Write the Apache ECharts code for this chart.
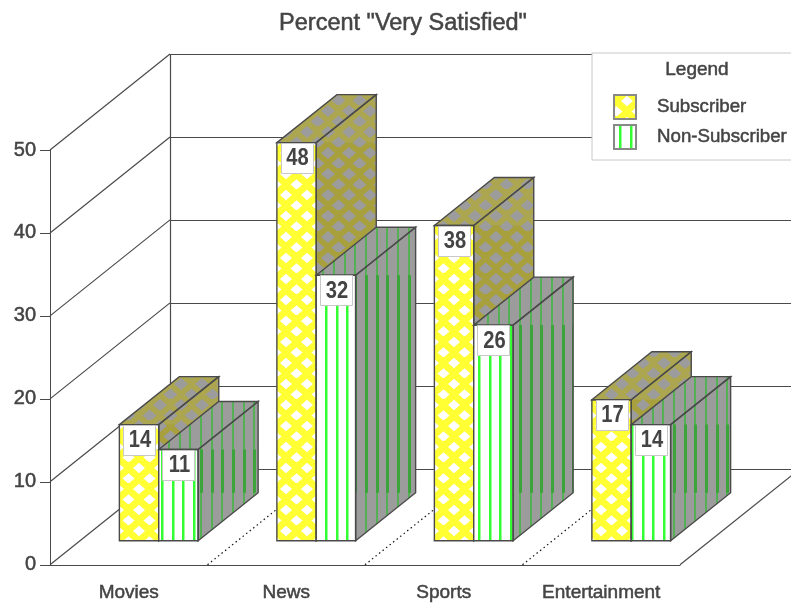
<!DOCTYPE html>
<html>
<head>
<meta charset="utf-8">
<title>Percent "Very Satisfied"</title>
<style>
  html, body { margin: 0; padding: 0; background: #fff; }
  #chart { width: 791px; height: 603px; }
</style>
<script src="https://cdn.jsdelivr.net/npm/echarts@6/dist/echarts.min.js"></script>
</head>
<body>
<div id="chart"></div>
<script>
// Survey results
const categories = ['Movies', 'News', 'Sports', 'Entertainment'];
const subscriberValues = [14, 48, 38, 17];
const nonSubscriberValues = [11, 32, 26, 14];
const valueTicks = [0, 10, 20, 30, 40, 50];

// Oblique projection: how far the full floor depth shifts a point on screen
const DEPTH_X = 120;
const DEPTH_Y = 96;
const BAR_NEAR = 0.25;
const BAR_FAR = 0.75;

const INK = '#444';
const EDGE = '#4a4a4a';
const GRAY = '#9c9c9c';

// Where the stripe tiles start on each striped bar
const frontStripeStart = [161, 325, 478, 631];
const sideStripeStart = [200, 365, 519, 673];

function tile(w, h, paint) {
  const c = document.createElement('canvas');
  c.width = w;
  c.height = h;
  paint(c.getContext('2d'));
  return { image: c, repeat: 'repeat' };
}

// Lattice of diamonds on a 21px staggered grid
function latticeFill(band, hole, rx, ry) {
  return tile(21, 21, ctx => {
    ctx.fillStyle = band;
    ctx.fillRect(0, 0, 21, 21);
    ctx.fillStyle = hole;
    [[13, 6], [2.5, 16.5], [23.5, 16.5], [13, 27], [13, -15]].forEach(([x, y]) => {
      ctx.beginPath();
      ctx.moveTo(x - rx, y);
      ctx.lineTo(x, y - ry);
      ctx.lineTo(x + rx, y);
      ctx.lineTo(x, y + ry);
      ctx.closePath();
      ctx.fill();
    });
  });
}

// Vertical stripes, three to a 32px tile
function stripeFill(stripe, ground, width) {
  return tile(32, 32, ctx => {
    ctx.fillStyle = ground;
    ctx.fillRect(0, 0, 32, 32);
    ctx.fillStyle = stripe;
    [0, 11, 21].forEach(x => ctx.fillRect(x, 0, width, 32));
  });
}

const latticeFront = latticeFill('#ffff33', '#ffffff', 6, 5.2);
const latticeSide = latticeFill('#a8a03c', GRAY, 7, 6);
const latticeTop = latticeFill('#aca650', GRAY, 7, 6);
const stripeFront = stripeFill('#33ff33', '#ffffff', 2.5);
const stripeSide = stripeFill('#3ba53b', GRAY, 3);
const stripeTop = stripeFill('#55b055', GRAY, 2);

const project = (pt, depth) => [pt[0] + DEPTH_X * depth, pt[1] - DEPTH_Y * depth];
const crisp = v => Math.round(v) + 0.5;

function polyline(points, extra) {
  return {
    type: 'polyline',
    shape: { points },
    style: Object.assign({ stroke: EDGE, lineWidth: 1.2, fill: null }, extra),
    silent: true
  };
}

// Side walls and back wall: one ring per value tick
function renderWall(params, api) {
  const band = api.size([1, 0])[0];
  const v = api.value(1);
  const p = api.coord([0, v]);
  const left = [p[0] - band / 2, p[1]];
  const back = project(left, 1);
  const children = [
    polyline([left, back]),
    polyline([[back[0], crisp(back[1])], [back[0] + 680, crisp(back[1])]])
  ];
  if (v === 0) {
    const top = project(api.coord([0, 50]), 1);
    children.push(polyline([[crisp(back[0]), back[1]], [crisp(back[0]), top[1]]]));
  }
  return { type: 'group', children };
}

// Floor markings between the categories and along the right edge
function renderFloor(params, api) {
  const band = api.size([1, 0])[0];
  const i = api.value(0);
  const p = api.coord([i, 0]);
  const near = [p[0] + band / 2, p[1]];
  const far = project(near, 1);
  const isLast = i === categories.length - 1;
  return polyline([near, far], isLast ? {} : { stroke: '#111', lineDash: [1.5, 3] });
}

function makeBarRenderer(slot, fillsFor) {
  return function (params, api) {
    const band = api.size([1, 0])[0];
    const w = band / 4;
    const index = api.value(0);
    const value = api.value(1);
    const fills = fillsFor(index);
    const c = api.coord([index, value]);
    const b = api.coord([index, 0]);
    const x0 = c[0] + (slot - 1) * w;
    const x1 = x0 + w;

    const ftl = project([x0, c[1]], BAR_NEAR);
    const ftr = project([x1, c[1]], BAR_NEAR);
    const fbl = project([x0, b[1]], BAR_NEAR);
    const fbr = project([x1, b[1]], BAR_NEAR);
    const btl = project([x0, c[1]], BAR_FAR);
    const btr = project([x1, c[1]], BAR_FAR);
    const bbr = project([x1, b[1]], BAR_FAR);

    const poly = (pts, fill, stroke) => ({
      type: 'polygon',
      shape: { points: pts },
      style: { fill, stroke: stroke || null, lineWidth: 1.4 },
      silent: true
    });

    const cx = (ftl[0] + ftr[0]) / 2;
    return {
      type: 'group',
      children: [
        poly([fbl, fbr, ftr, ftl], fills.front),
        poly([ftl, ftr, btr, btl], fills.top),
        poly([fbr, bbr, btr, ftr], fills.top),
        // The hatch runs at full strength where the side's height is unbroken
        poly([[fbr[0], ftr[1]], [bbr[0], ftr[1]], [bbr[0], bbr[1]], [fbr[0], bbr[1]]], fills.side),
        poly([fbl, fbr, ftr, ftl], null, EDGE),
        poly([ftl, ftr, btr, btl], null, EDGE),
        poly([fbr, bbr, btr, ftr], null, EDGE),
        {
          type: 'rect',
          shape: { x: Math.round(cx - 16) + 0.5, y: Math.round(ftl[1]) + 0.5, width: 32, height: 30 },
          style: { fill: '#fff', stroke: '#c8c8c8', lineWidth: 1 },
          silent: true
        },
        {
          type: 'text',
          x: cx + 1,
          y: ftl[1] + 16,
          scaleX: 0.84,
          style: {
            text: String(value),
            fill: INK,
            font: 'bold 24px "Liberation Sans"',
            align: 'center',
            verticalAlign: 'middle'
          },
          silent: true
        }
      ]
    };
  };
}

const heavy = { textBorderColor: INK, textBorderWidth: 0.5 };

const chart = echarts.init(document.getElementById('chart'), null, { renderer: 'canvas' });
chart.setOption({
  animation: false,
  backgroundColor: '#fff',
  textStyle: { fontFamily: '"Liberation Sans"' },
  title: {
    text: 'Percent "Very Satisfied"',
    left: 398,
    top: 7,
    textAlign: 'center',
    textStyle: Object.assign({ color: INK, fontSize: 23.5, fontWeight: 'normal', fontFamily: '"Liberation Sans"' }, heavy)
  },
  grid: { left: 50, top: 150, width: 630, height: 415, containLabel: false },
  xAxis: {
    type: 'category',
    data: categories,
    axisLine: { lineStyle: { color: EDGE, width: 1 } },
    axisTick: { alignWithLabel: true, length: 12, lineStyle: { color: EDGE } },
    axisLabel: Object.assign({ color: INK, fontSize: 19, margin: 19, interval: 0 }, heavy),
    splitLine: { show: false }
  },
  yAxis: {
    type: 'value',
    min: 0,
    max: 50,
    interval: 10,
    axisLine: { show: true, lineStyle: { color: EDGE, width: 1 } },
    axisTick: { show: true, length: 10, lineStyle: { color: EDGE } },
    axisLabel: Object.assign({ color: INK, fontSize: 20, margin: 14, verticalAlign: 'bottom', lineHeight: 20, padding: [0, 0, -10, 0] }, heavy),
    splitLine: { show: false }
  },
  legend: {
    orient: 'vertical',
    left: 592,
    top: 53,
    padding: [41, 16, 10, 21],
    itemWidth: 22,
    itemHeight: 24,
    itemGap: 4,
    icon: 'rect',
    backgroundColor: '#fff',
    borderColor: '#c8c8c8',
    borderWidth: 1,
    textStyle: Object.assign({ color: INK, fontSize: 18.7, padding: [0, 0, 0, 16] }, heavy),
    data: ['Subscriber', 'Non-Subscriber'],
    selectedMode: false
  },
  graphic: [{
    type: 'text',
    left: 665,
    top: 60,
    z: 10,
    style: { text: 'Legend', fill: INK, font: '19px "Liberation Sans"', stroke: INK, lineWidth: 0.5 }
  }],
  series: [
    {
      type: 'custom',
      name: 'walls',
      renderItem: renderWall,
      coordinateSystem: 'cartesian2d',
      data: valueTicks.map(v => [0, v]),
      encode: { x: 0, y: 1 },
      silent: true,
      z: 1
    },
    {
      type: 'custom',
      name: 'floor',
      renderItem: renderFloor,
      coordinateSystem: 'cartesian2d',
      data: categories.map((c, i) => [i, 0]),
      encode: { x: 0, y: 1 },
      silent: true,
      z: 1
    },
    {
      type: 'custom',
      name: 'Subscriber',
      renderItem: makeBarRenderer(0, () => ({ front: latticeFront, side: latticeSide, top: latticeTop })),
      coordinateSystem: 'cartesian2d',
      itemStyle: { color: latticeFront, borderColor: '#888', borderWidth: 1 },
      data: subscriberValues.map((v, i) => [i, v]),
      encode: { x: 0, y: 1 },
      silent: true,
      z: 3
    },
    {
      type: 'custom',
      name: 'Non-Subscriber',
      renderItem: makeBarRenderer(1, i => ({
        front: Object.assign({}, stripeFront, { x: frontStripeStart[i] }),
        side: Object.assign({}, stripeSide, { x: sideStripeStart[i] }),
        top: Object.assign({}, stripeTop, { x: sideStripeStart[i] })
      })),
      coordinateSystem: 'cartesian2d',
      itemStyle: { color: Object.assign({}, stripeFront, { x: 5 }), borderColor: '#888', borderWidth: 1 },
      data: nonSubscriberValues.map((v, i) => [i, v]),
      encode: { x: 0, y: 1 },
      silent: true,
      z: 4
    }
  ]
});
</script>
</body>
</html>
